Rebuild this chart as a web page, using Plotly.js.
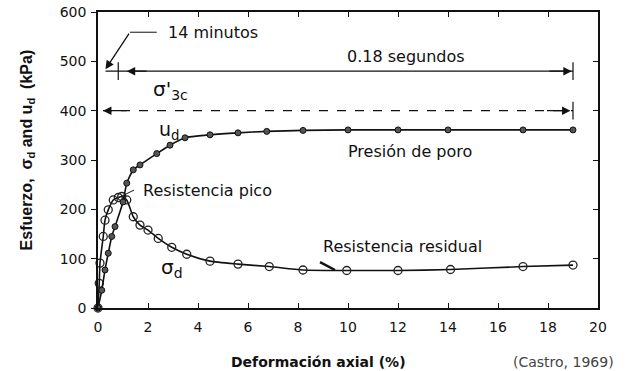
<!DOCTYPE html>
<html><head><meta charset="utf-8">
<script src="https://cdn.plot.ly/plotly-3.0.1.min.js"></script>
<style>body{margin:0;background:#fff}#c{width:625px;height:371px}</style>
</head><body><div id="c"></div>
<script>
// Pore pressure u_d (filled circles)
const udX = [0,0.15,0.28,0.41,0.55,0.68,1.0,1.15,1.41,1.68,2.35,2.88,3.48,4.48,5.6,6.75,8.2,10,12,14,17,19];
const udY = [0,36,77,111,145,165,215,253,280,290,313,330,345,351,355,358,360,361,361,361,361,361];
// Deviator stress sigma_d (open circles)
const sdX = [0,0.05,0.08,0.21,0.28,0.41,0.61,0.81,0.95,1.15,1.41,1.68,2.0,2.41,2.95,3.55,4.48,5.6,6.85,8.2,9.95,12,14.1,17,19];
const sdY = [0,50,91,145,178,199,219,224,226,219,185,168,158,141,123,109,95,89,84,77,76,76,78,84,87];
const xTicks = [0,2,4,6,8,10,12,14,16,18,20];
const yTicks = [0,100,200,300,400,500,600];
// reference levels
const timeLineY = 480;   // 14 minutos / 0.18 segundos line
const sigma3c = 400;     // sigma'_3c
const xEnd = 19;

const font = 'DejaVu Sans, sans-serif';
const traces = [
  {x: sdX, y: sdY, mode: 'lines+markers', line: {color:'#111', width:1.6, shape:'spline', smoothing:0.6},
   marker: {symbol:'circle-open', size:8, color:'#222', line:{width:1.3}}, cliponaxis:false, hoverinfo:'skip'},
  {x: udX, y: udY, mode: 'lines+markers', line: {color:'#111', width:1.6, shape:'spline', smoothing:0.6},
   marker: {symbol:'circle', size:6, color:'#555', line:{color:'#111', width:1}}, cliponaxis:false, hoverinfo:'skip'}
];

const shapes = [
  {type:'line', x0:0.3, x1:xEnd, y0:timeLineY, y1:timeLineY, line:{color:'#111', width:1.2}},
  {type:'line', x0:0.81, x1:0.81, y0:timeLineY-18, y1:timeLineY+18, line:{color:'#111', width:1.2}},
  {type:'line', x0:xEnd, x1:xEnd, y0:timeLineY-18, y1:timeLineY+18, line:{color:'#111', width:1.2}},
  {type:'line', x0:0.2, x1:xEnd, y0:sigma3c, y1:sigma3c, line:{color:'#111', width:1.4, dash:'dash'}},
  {type:'line', x0:xEnd, x1:xEnd, y0:sigma3c-18, y1:sigma3c+18, line:{color:'#111', width:1.2}},
  {type:'line', x0:1.28, x1:2.35, y0:559, y1:559, line:{color:'#111', width:1}},
  {type:'line', x0:8.88, x1:9.48, y0:93, y1:77, line:{color:'#111', width:2.5}},
  {type:'line', x0:0.96, x1:1.44, y0:227, y1:239, line:{color:'#111', width:1}}
];

function arrow(x, y, ax, ay) {
  return {x:x, y:y, ax:ax, ay:ay, xref:'x', yref:'y', axref:'x', ayref:'y', text:'', showarrow:true,
          arrowhead:2, arrowsize:1.3, arrowwidth:1.3, arrowcolor:'#111'};
}
function txt(x, y, t, size, extra) {
  return Object.assign({x:x, y:y, xref:'x', yref:'y', text:t, showarrow:false,
          font:{family:font, size:size, color:'#111'}}, extra||{});
}

const annotations = [
  arrow(1.15, timeLineY, 2.0, timeLineY),
  arrow(18.95, timeLineY, 18.0, timeLineY),
  arrow(0.2, sigma3c, 1.2, sigma3c),
  arrow(18.9, sigma3c, 17.9, sigma3c),
  arrow(0.3, 484, 1.28, 559),
  txt(4.6, 559, '14 minutos', 16),
  txt(12.32, 509, '0.18 segundos', 16),
  txt(2.88, 442, "σ'<sub>3c</sub>", 20),
  txt(2.85, 359, 'u<sub>d</sub>', 19),
  txt(12.48, 318, 'Presión de poro', 16),
  txt(4.36, 239, 'Resistencia pico', 16),
  txt(2.96, 81, 'σ<sub>d</sub>', 20),
  txt(12.16, 124, 'Resistencia residual', 16),
  {x:-0.141, y:0.534, xref:'paper', yref:'paper', xanchor:'center', yanchor:'middle', textangle:-90, showarrow:false,
   text:'<b>Esfuerzo,  σ<sub>d</sub> and u<sub>d</sub>  (kPa)</b>', font:{family:'Liberation Sans Narrow, Liberation Sans, sans-serif', size:16, color:'#111'}},
  {x:0.44, y:-0.182, xref:'paper', yref:'paper', xanchor:'center', yanchor:'middle', showarrow:false,
   text:'<b>Deformación axial (%)</b>', font:{family:font, size:14, color:'#111'}},
  {x:0.93, y:-0.182, xref:'paper', yref:'paper', xanchor:'center', yanchor:'middle', showarrow:false,
   text:'(Castro, 1969)', font:{family:font, size:14, color:'#444'}}
];

const layout = {
  width:625, height:371, margin:{l:98, r:27, t:12, b:63},
  paper_bgcolor:'#fff', plot_bgcolor:'#fff', showlegend:false,
  font:{family:font, size:14, color:'#111'},
  xaxis:{range:[0,20], tickvals:xTicks, ticktext:xTicks.map(String), ticks:'inside', ticklen:5, tickcolor:'#111',
         showline:true, linecolor:'#111', linewidth:1.8, mirror:'ticks', showgrid:false, zeroline:false,
         ticklabelstandoff:5, tickfont:{family:font, size:14}},
  yaxis:{range:[0,600], tickvals:yTicks, ticktext:yTicks.map(String), ticks:'outside', ticklen:5, tickcolor:'#111',
         showline:true, linecolor:'#111', linewidth:1.8, mirror:false, showgrid:false, zeroline:false,
         ticklabelstandoff:2, tickfont:{family:font, size:14}},
  yaxis2:{overlaying:'y', side:'right', matches:'y', range:[0,600], tickvals:yTicks, ticks:'inside', ticklen:5,
         tickcolor:'#111', showticklabels:false, showline:true, linecolor:'#111', linewidth:1.8,
         showgrid:false, zeroline:false},
  shapes:shapes, annotations:annotations
};
traces.push({x:[0], y:[0], yaxis:'y2', mode:'markers', marker:{opacity:0}, hoverinfo:'skip', showlegend:false});
Plotly.newPlot('c', traces, layout, {staticPlot:true});
</script></body></html>
